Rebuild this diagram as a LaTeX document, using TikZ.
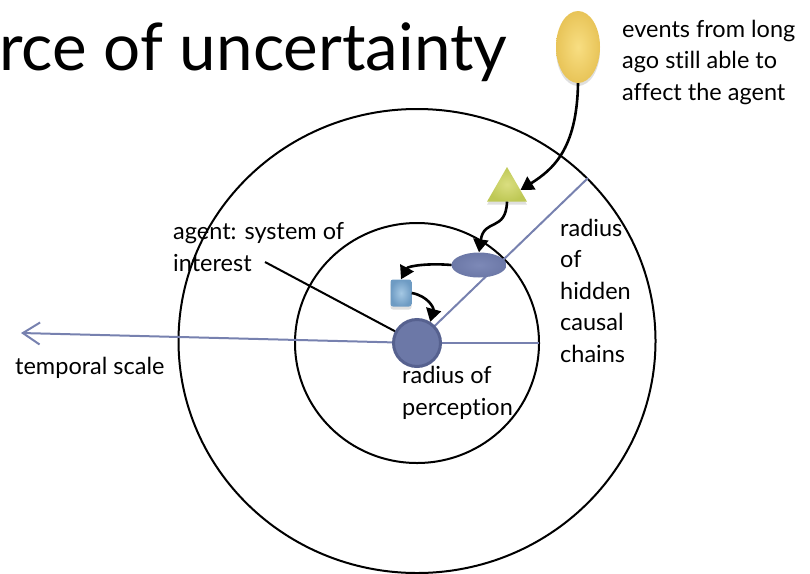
\documentclass[tikz,border=0pt]{standalone}
\usepackage{fontspec}
\setmainfont{Lato}[Ligatures=NoCommon]
\usetikzlibrary{arrows.meta,shapes.geometric,shadows}
\definecolor{lineblue}{HTML}{7781AF}
\definecolor{agentfill}{HTML}{6C78A7}
\definecolor{agentdraw}{HTML}{56618F}
\definecolor{blobin}{HTML}{7D89B7}
\definecolor{sqin}{RGB}{165,200,228}
\definecolor{sqout}{RGB}{110,155,195}
\definecolor{triin}{RGB}{218,222,128}
\definecolor{triout}{RGB}{190,200,85}
\definecolor{yelin}{RGB}{248,222,130}
\definecolor{yelout}{RGB}{232,196,88}
\tikzset{
  ring/.style={draw=black, line width=2pt},
  scaleline/.style={draw=lineblue, line width=2pt},
  causal/.style={draw=black, line width=2.6pt, -{Triangle[length=13pt,width=15pt]}},
  lbl/.style={font=\fontsize{23.5}{31.5}\selectfont, align=left, anchor=base west, inner sep=0pt, text=black},
  softshadow/.style={drop shadow={opacity=0.25, shadow xshift=0pt, shadow yshift=-3pt}}
}
\begin{document}
\begin{tikzpicture}[x=1pt,y=-1pt]
\useasboundingbox (0,0) rectangle (810,573);
% rings
\draw[ring] (417,341) ellipse [x radius=238.5, y radius=232];
\draw[ring] (417,343) ellipse [x radius=122, y radius=120];
% centre and free ends
\coordinate (c) at (417,343);
\coordinate (tend) at (21,333);
\coordinate (pend) at (539,343);
\coordinate (hend) at (588,178);
\draw[scaleline, -{Straight Barb[length=17pt,width=22pt]}] (c) -- (tend);
\draw[scaleline] (c) -- (pend);
\draw[scaleline] (c) -- (hend);
% agent
\node[circle, minimum size=47pt, inner sep=0pt, fill=agentfill, draw=agentdraw, line width=3pt] (agent) at (c) {};
% shapes
\node[ellipse, minimum width=55pt, minimum height=25pt, inner sep=0pt, inner color=blobin, outer color=agentfill] (blob) at (479,265) {};
\node[rectangle, rounded corners=2.5pt, minimum width=21pt, minimum height=27pt, inner sep=0pt, inner color=sqin, outer color=sqout, softshadow] (sq) at (401,293) {};
\node[regular polygon, regular polygon sides=3, minimum size=46pt, inner sep=0pt, inner color=triin, outer color=triout, softshadow] (tri) at (507,190) {};
\node[ellipse, minimum width=44pt, minimum height=72pt, inner sep=0pt, inner color=yelin, outer color=yelout, softshadow] (yel) at (578,47) {};
% causal arrows
\draw[causal] (yel.south) .. controls (577,150) and (552,170) .. (tri.east);
\draw[causal] (tri.south) .. controls (506,232) and (484,218) .. (blob.north);
\draw[causal] (blob.west) .. controls (428,263) and (408,266) .. (sq.north);
\draw[causal] (sq.east) .. controls (428,296) and (434,308) .. (agent.58);
% labels
\node[font=\fontsize{65.5}{70}\selectfont, anchor=base west, inner sep=0pt, text=black] (title) at (-1,70) {rce of uncertainty};
\node[lbl] (events) at (622,100) {events from long\\ago still able to\\affect the agent};
\node[lbl] (agentlbl) at (173,271) {agent: system of\\interest};
\coordinate (lblend) at (265,262);
\draw[black, line width=2pt] (lblend) -- (agent);
\node[lbl] (temporal) at (15,374) {temporal scale};
\node[lbl] (percep) at (402,415) {radius of\\perception};
\node[lbl] (hidden) at (560,362) {radius\\of\\hidden\\causal\\chains};
\end{tikzpicture}
\end{document}
